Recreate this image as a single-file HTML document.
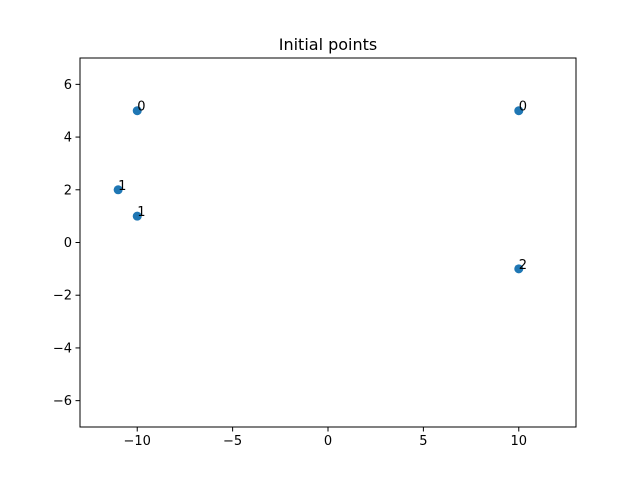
<!DOCTYPE html>
<html><head><meta charset="utf-8"><style>
body{margin:0;background:#fff}
svg text{font-family:"DejaVu Sans","Liberation Sans",sans-serif}
</style></head><body>
<svg id="chart" width="640" height="480" viewBox="0 0 640 480" xmlns="http://www.w3.org/2000/svg">
<rect width="640" height="480" fill="#fff"/>
<text x="328" y="50" text-anchor="middle" font-size="16" fill="#000">Initial points</text>
<g id="marks"></g>
<g id="axes"></g>
<rect x="80" y="58" width="496" height="369" fill="none" stroke="#000" stroke-width="1"/>
</svg>
<script>
const xs=[-10,10,-11,-10,10];
const ys=[5,5,2,1,-1];
const labels=["0","0","1","1","2"];
const xTicks=[-10,-5,0,5,10];
const yTicks=[-6,-4,-2,0,2,4,6];
const xMin=-13,xMax=13,yMin=-7,yMax=7;
const L=80,R=576,T=58,B=427;
const sx=v=>L+(v-xMin)/(xMax-xMin)*(R-L);
const sy=v=>B-(v-yMin)/(yMax-yMin)*(B-T);
const NS="http://www.w3.org/2000/svg";
const marks=document.getElementById('marks'),axes=document.getElementById('axes');
function mk(t,a,p){const e=document.createElementNS(NS,t);for(const k in a)e.setAttribute(k,a[k]);p.appendChild(e);return e;}
xs.forEach((x,i)=>{
 const c=mk('circle',{cx:sx(x),cy:sy(ys[i]),r:4.5,fill:'#1f77b4'},marks);
 
 
 const t=mk('text',{x:sx(x),y:sy(ys[i]),'font-size':13,fill:'#000'},marks);
 t.textContent=labels[i];
 
 
});
xTicks.forEach(v=>{
 const l=mk('line',{x1:sx(v),x2:sx(v),y1:B,y2:B+4.5,stroke:'#000'},axes);
 
 
 const t=mk('text',{x:sx(v),y:B+18,'font-size':13,'text-anchor':'middle'},axes);
 t.textContent=v<0?'\u2212'+(-v):String(v);
 
 
});
yTicks.forEach(v=>{
 const l=mk('line',{x1:L-4.5,x2:L,y1:sy(v),y2:sy(v),stroke:'#000'},axes);
 
 
 const t=mk('text',{x:L-8,y:sy(v)+4.5,'font-size':13,'text-anchor':'end'},axes);
 t.textContent=v<0?'\u2212'+(-v):String(v);
 
 
});
</script>
</body></html>
